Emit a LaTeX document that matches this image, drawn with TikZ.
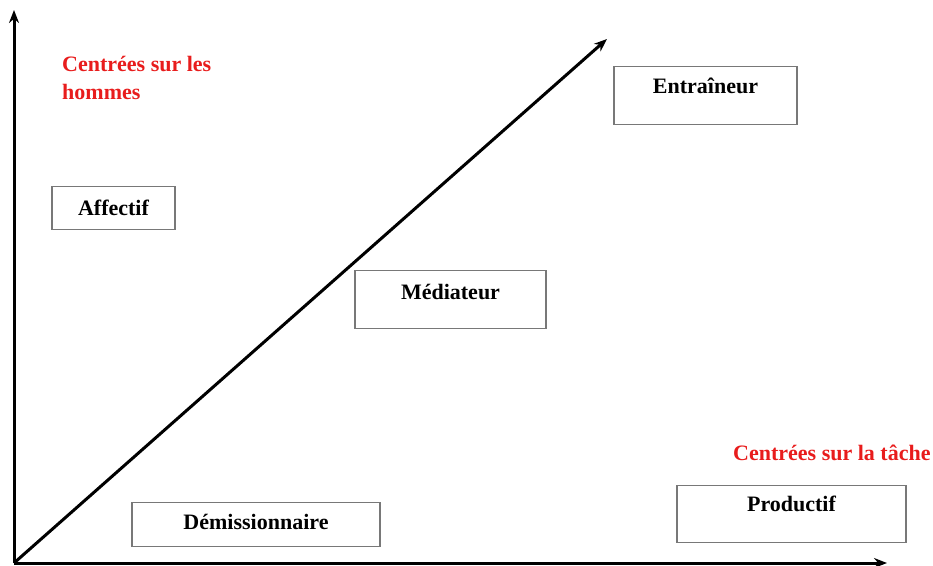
\documentclass[tikz,border=0pt]{standalone}
\usepackage{fontspec}
\setmainfont{Liberation Serif}
\usetikzlibrary{arrows.meta}
\definecolor{redtxt}{RGB}{232,28,28}
\definecolor{boxgray}{RGB}{120,120,120}
\tikzset{
  axis/.style={line width=3pt, -{Stealth[length=13pt,width=10pt]}},
  box/.style={draw=boxgray, line width=1.4pt, inner xsep=0pt, inner ysep=0pt, anchor=north,
    font=\fontsize{22}{26}\selectfont\bfseries},
  redlbl/.style={text=redtxt, font=\fontsize{22}{28}\selectfont\bfseries, inner sep=0pt, align=left}
}
\begin{document}
\begin{tikzpicture}[x=1pt,y=-1pt]
\useasboundingbox (0,0) rectangle (933,565);
\coordinate (O) at (14,563);
\coordinate (ytip) at (14,10);
\coordinate (xtip) at (887,563);
\coordinate (dtip) at (607,39);
\draw[axis] (O) -- (ytip);
\draw[axis] (O) -- (xtip);
\draw[axis] (O) -- (dtip);
\node[box, minimum width=123pt, text height=29pt, text depth=14pt] (aff) at (113.5,186) {Affectif};
\node[box, minimum width=183pt, text height=27pt, text depth=31pt] (ent) at (705.5,66) {Entraîneur};
\node[box, minimum width=191pt, text height=29pt, text depth=29pt] (med) at (450.5,270) {Médiateur};
\node[box, minimum width=248pt, text height=27pt, text depth=17pt] (dem) at (256,502) {Démissionnaire};
\node[box, minimum width=229pt, text height=26pt, text depth=31pt] (prod) at (791.5,485) {Productif};
\node[redlbl, anchor=north west] (hom) at (62,56) {Centrées sur les\\hommes};
\node[redlbl, anchor=west] (tache) at (733,453) {Centrées sur la tâche};
\end{tikzpicture}
\end{document}
